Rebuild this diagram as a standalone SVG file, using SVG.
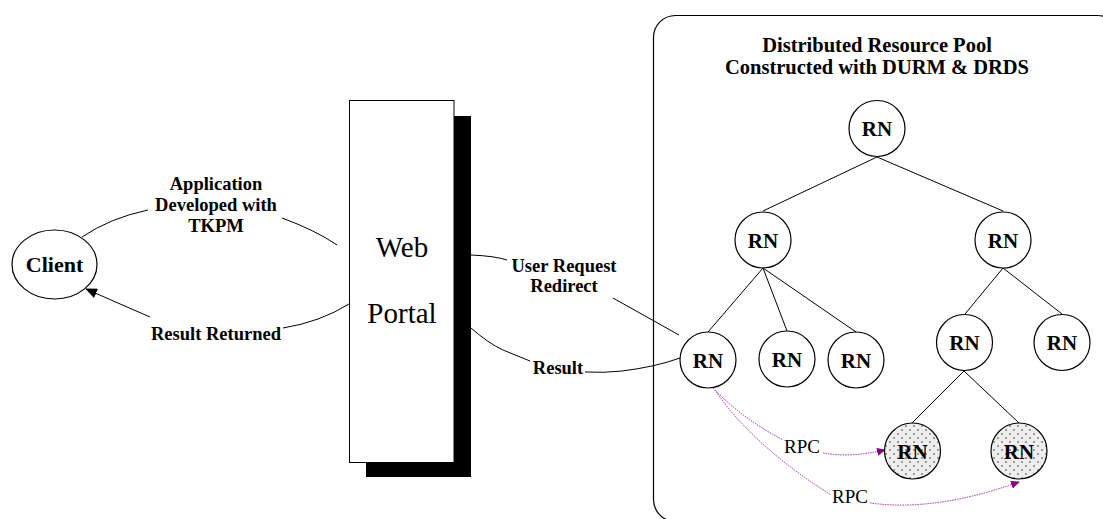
<svg xmlns="http://www.w3.org/2000/svg" width="1103" height="519" viewBox="0 0 1103 519">
  <defs>
    <style>
      .edge { fill: none; stroke: #000; stroke-width: 1; }
      .rpc { fill: none; stroke: #a030a0; stroke-width: 1; stroke-dasharray: 1.5 1; }
      .node { fill: #fff; stroke: #000; stroke-width: 1.2; }
      .busy { fill: url(#dots); stroke: #000; stroke-width: 1.2; }
      .rn { font-family: "Liberation Serif", "Times New Roman", serif; font-weight: bold; font-size: 21px; text-anchor: middle; }
      .lbl { font-family: "Liberation Serif", "Times New Roman", serif; font-weight: bold; font-size: 18.5px; text-anchor: middle; }
      .title { font-family: "Liberation Serif", "Times New Roman", serif; font-weight: bold; font-size: 20.5px; text-anchor: middle; }
      .plain { font-family: "Liberation Serif", "Times New Roman", serif; font-size: 19px; text-anchor: middle; }
      .big { font-family: "Liberation Serif", "Times New Roman", serif; font-size: 29px; text-anchor: middle; }
    </style>
    <pattern id="dots" patternUnits="userSpaceOnUse" width="8" height="8">
      <rect width="8" height="8" fill="#eeeeee"/>
      <circle cx="2" cy="2" r="0.8" fill="#333"/>
      <circle cx="6" cy="6" r="0.8" fill="#333"/>
    </pattern>
    <marker id="arrowBlack" markerWidth="12" markerHeight="10" refX="11" refY="5" orient="auto" markerUnits="userSpaceOnUse">
      <path d="M0,0 L12,5 L0,10 Z" fill="#000"/>
    </marker>
    <marker id="arrowPurple" markerWidth="9" markerHeight="8" refX="8" refY="4" orient="auto" markerUnits="userSpaceOnUse">
      <path d="M0,0 L9,4 L0,8 Z" fill="#800080"/>
    </marker>
  </defs>

  <rect width="1103" height="519" fill="#fff"/>

  <!-- resource pool container -->
  <g id="pool">
    <rect x="653.5" y="15.5" width="466" height="506" rx="22" ry="22" fill="none" stroke="#000" stroke-width="1.2"/>
    <text class="title" x="877" y="52">Distributed Resource Pool</text>
    <text class="title" x="877" y="74">Constructed with DURM &amp; DRDS</text>
  </g>

  <!-- connectors -->
  <g id="connectors">
    <!-- client / portal -->
    <path class="edge" d="M82,237 Q110,218 148,210"/>
    <path class="edge" d="M282,218 Q315,230 337,245"/>
    <path class="edge" d="M349,304 Q320,322 283,328"/>
    <path class="edge" d="M150,317 Q120,304 86,289" marker-end="url(#arrowBlack)"/>
    <!-- portal / pool -->
    <path class="edge" d="M471,255 Q495,256 507,260"/>
    <path class="edge" d="M613,298 L679,335"/>
    <path class="edge" d="M471,328 Q488,343 503,350 L530,361"/>
    <path class="edge" d="M585,372 Q605,373 622,371 Q655,367 680,358"/>
    <!-- tree edges -->
    <line class="edge" x1="877" y1="157" x2="763" y2="211"/>
    <line class="edge" x1="877" y1="157" x2="1003" y2="211"/>
    <line class="edge" x1="763" y1="268" x2="708" y2="332"/>
    <line class="edge" x1="763" y1="268" x2="787" y2="331"/>
    <line class="edge" x1="763" y1="268" x2="856" y2="332"/>
    <line class="edge" x1="1003" y1="268" x2="965" y2="314"/>
    <line class="edge" x1="1003" y1="268" x2="1062" y2="314"/>
    <line class="edge" x1="964" y1="371" x2="912" y2="423"/>
    <line class="edge" x1="964" y1="371" x2="1019" y2="423"/>
    <!-- remote calls -->
    <path class="rpc" d="M713,388 Q740,417 783,440"/>
    <path class="rpc" d="M823,453 Q850,458 885,450" marker-end="url(#arrowPurple)"/>
    <path class="rpc" d="M715,390 Q752,445 831,495"/>
    <path class="rpc" d="M870,503 Q935,512 1019,482" marker-end="url(#arrowPurple)"/>
  </g>

  <!-- connector labels -->
  <g id="labels">
    <text class="lbl" x="216" y="190">Application</text>
    <text class="lbl" x="216" y="211">Developed with</text>
    <text class="lbl" x="216" y="232">TKPM</text>
    <text class="lbl" x="216" y="340">Result Returned</text>
    <text class="lbl" x="564" y="272">User Request</text>
    <text class="lbl" x="564" y="292">Redirect</text>
    <text class="lbl" x="558" y="374">Result</text>
    <text class="plain" x="802" y="453">RPC</text>
    <text class="plain" x="850" y="503">RPC</text>
  </g>

  <g id="client">
    <ellipse cx="54.5" cy="264.5" rx="42.5" ry="34.5" class="node"/>
    <text class="rn" x="54.5" y="272" style="font-size:22px">Client</text>
  </g>

  <g id="web-portal">
    <rect x="366" y="116" width="105" height="361" fill="#000"/>
    <rect x="349.5" y="100.5" width="104.5" height="362" fill="#fff" stroke="#000" stroke-width="1"/>
    <text class="big" x="402" y="257">Web</text>
    <text class="big" x="402" y="323">Portal</text>
  </g>

  <g id="rn-root"><circle cx="877" cy="128.5" r="28" class="node"/><text class="rn" x="877" y="136">RN</text></g>
  <g id="rn-l"><circle cx="763" cy="240" r="28" class="node"/><text class="rn" x="763" y="247.5">RN</text></g>
  <g id="rn-r"><circle cx="1003" cy="240" r="28" class="node"/><text class="rn" x="1003" y="247.5">RN</text></g>
  <g id="rn-l1"><circle cx="708" cy="360" r="28" class="node"/><text class="rn" x="708" y="367.5">RN</text></g>
  <g id="rn-l2"><circle cx="787" cy="359" r="28" class="node"/><text class="rn" x="787" y="366.5">RN</text></g>
  <g id="rn-l3"><circle cx="856" cy="360" r="28" class="node"/><text class="rn" x="856" y="367.5">RN</text></g>
  <g id="rn-r1"><circle cx="964.5" cy="342.5" r="28" class="node"/><text class="rn" x="964.5" y="350">RN</text></g>
  <g id="rn-r2"><circle cx="1062" cy="342.5" r="28" class="node"/><text class="rn" x="1062" y="350">RN</text></g>
  <g id="rn-b1"><circle cx="912.5" cy="451" r="28" class="busy"/><text class="rn" x="912.5" y="458.5">RN</text></g>
  <g id="rn-b2"><circle cx="1019" cy="451" r="28" class="busy"/><text class="rn" x="1019" y="458.5">RN</text></g>
</svg>
